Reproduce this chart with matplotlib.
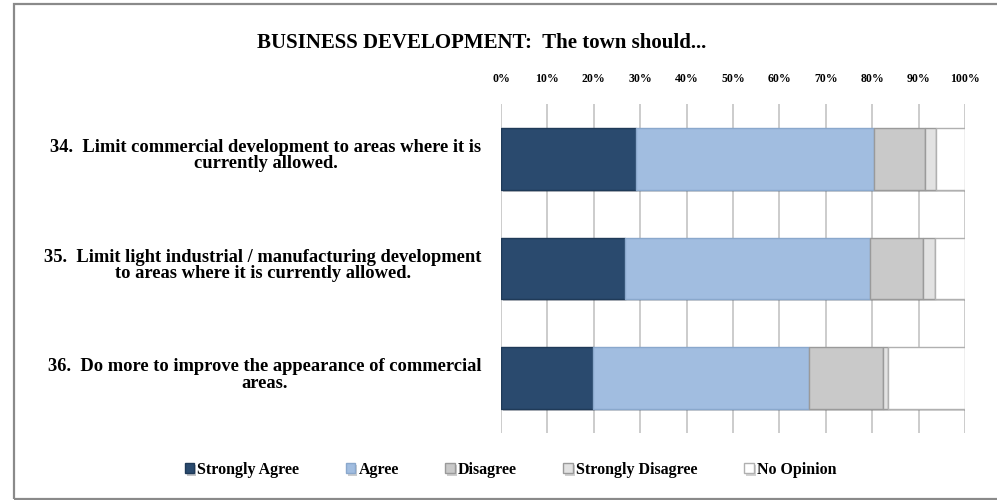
import numpy as np
import matplotlib
matplotlib.use("Agg")
import matplotlib.pyplot as plt
import matplotlib.patheffects as pe
import matplotlib.transforms as mtransforms
from matplotlib.patches import Rectangle

plt.rcParams['font.family'] = ['Liberation Serif', 'DejaVu Serif']

# 設問 (上から順に)
questions = [
    "34.  Limit commercial development to areas where it is\ncurrently allowed.",
    "35.  Limit light industrial / manufacturing development\nto areas where it is currently allowed.",
    "36.  Do more to improve the appearance of commercial\nareas.",
]
# 回答の割合 (%)
strongly_agree = [29.0, 26.7, 19.9]
agree = [51.3, 52.8, 46.5]
disagree = [11.1, 11.4, 16.0]
strongly_disagree = [2.4, 2.6, 1.1]
no_opinion = [6.2, 6.5, 16.5]

series = ["Strongly Agree", "Agree", "Disagree", "Strongly Disagree", "No Opinion"]
colors = ["#2a4a6e", "#a1bde0", "#c9c9c9", "#e2e2e2", "#ffffff"]
edges = ["#1f3a58", "#8aa8cc", "#9a9a9a", "#9a9a9a", "#b0b0b0"]

fig = plt.figure(figsize=(9.97, 5.0), dpi=100)
# 外枠
fig.patches.append(Rectangle((14 / 997, 0.002), 1.0, 0.99, transform=fig.transFigure,
                             fill=False, edgecolor="#8a8a8a", linewidth=1.6))

ax = fig.add_axes([501 / 997, 1 - 433 / 500, 464 / 997, 329 / 500])

y = np.arange(len(questions))
left = np.zeros(len(questions))
for name, vals, c, ec in zip(series, [strongly_agree, agree, disagree, strongly_disagree, no_opinion], colors, edges):
    ax.barh(y, vals, left=left, height=0.56, color=c, edgecolor=ec, linewidth=1.0,
            label=name, zorder=3,
            path_effects=[pe.SimplePatchShadow(offset=(1.5, -1.5), alpha=0.25), pe.Normal()])
    left += np.array(vals)

ax.set_xlim(0, 100)
ax.set_ylim(2.5, -0.5)
ax.set_xticks(np.arange(0, 101, 10))
ax.set_xticklabels([f"{v}%" for v in range(0, 101, 10)], fontsize=8.5, fontweight="bold")
ax.xaxis.tick_top()
ax.tick_params(axis="x", length=0, pad=14)
ax.grid(axis="x", color="#c4c4c4", linewidth=1.2, zorder=0)
ax.set_yticks(y)
ax.set_yticklabels(questions, fontsize=13.3, fontweight="bold", ha="right", multialignment="center",
                   linespacing=0.95)
ax.tick_params(axis="y", length=0, pad=14)
# ラベルを少し上にずらす
shift = mtransforms.ScaledTranslation(0, 5 / 100, fig.dpi_scale_trans)
for lab in ax.get_yticklabels():
    lab.set_transform(lab.get_transform() + shift)
for s in ax.spines.values():
    s.set_visible(False)

fig.text(0.483, 0.915, "BUSINESS DEVELOPMENT:  The town should...", ha="center", va="center",
         fontsize=15, fontweight="bold")

fig.legend(loc="center", bbox_to_anchor=(0.512, 0.06), ncol=5, frameon=False,
           prop={"size": 11.5, "weight": "bold"}, handlelength=0.6, handleheight=0.6,
           handletextpad=0.2, columnspacing=2.9)

fig.savefig("out.png", dpi=100)
